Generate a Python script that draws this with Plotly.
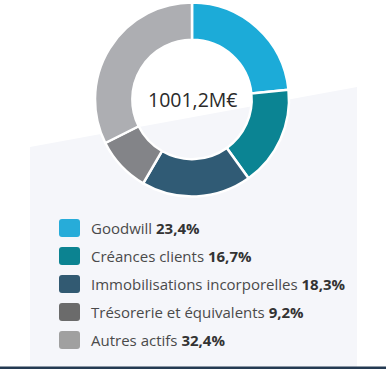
import plotly.graph_objects as go

W, H = 386, 369

labels = ["Goodwill", "Créances clients", "Immobilisations incorporelles",
          "Trésorerie et équivalents", "Autres actifs"]
values = [23.4, 16.7, 18.3, 9.2, 32.4]
value_labels = ["23,4%", "16,7%", "18,3%", "9,2%", "32,4%"]
total_label = "1001,2M€"

slice_colors = ["#1CABD8", "#0B8493", "#305B75", "#838488", "#ADAEB2"]
legend_colors = ["#27ACD9", "#0C8391", "#325A72", "#6B6B6B", "#A0A0A0"]


def px(x):
    return x / W


def py(y):
    return 1 - y / H


fig = go.Figure()
fig.add_trace(go.Pie(
    labels=labels, values=values, sort=False, direction="clockwise",
    rotation=0, hole=0.615,
    marker=dict(colors=slice_colors, line=dict(color="white", width=2.5)),
    textinfo="none", hoverinfo="label+percent", showlegend=False,
    domain=dict(x=[px(95), px(289)], y=[py(197), py(2)]),
))

shapes = []
# light background panel with slanted top
shapes.append(dict(
    type="path", xref="paper", yref="paper", layer="below",
    path=f"M {px(30)},{py(147)} L {px(357)},{py(87)} L {px(357)},{py(367)} L {px(30)},{py(367)} Z",
    fillcolor="#F5F6FA", line=dict(width=0),
))
# bottom navy rule
shapes.append(dict(
    type="rect", xref="paper", yref="paper", layer="above",
    x0=0, x1=1, y0=py(369), y1=py(366.5),
    fillcolor="#243A52", line=dict(width=0),
))

annotations = [dict(
    x=px(192), y=py(100), xref="paper", yref="paper", text=total_label,
    showarrow=False, xanchor="center", yanchor="middle",
    font=dict(family="Open Sans", size=19.5, color="#2A2A2A"),
)]

row_y0, row_dy = 228, 28
for i, (lab, vl, col) in enumerate(zip(labels, value_labels, legend_colors)):
    cy = row_y0 + i * row_dy
    x0, x1, y0, y1, r = 59, 80, cy - 9, cy + 9, 3
    path = (f"M {px(x0 + r)},{py(y0)} L {px(x1 - r)},{py(y0)} "
            f"Q {px(x1)},{py(y0)} {px(x1)},{py(y0 + r)} L {px(x1)},{py(y1 - r)} "
            f"Q {px(x1)},{py(y1)} {px(x1 - r)},{py(y1)} L {px(x0 + r)},{py(y1)} "
            f"Q {px(x0)},{py(y1)} {px(x0)},{py(y1 - r)} L {px(x0)},{py(y0 + r)} "
            f"Q {px(x0)},{py(y0)} {px(x0 + r)},{py(y0)} Z")
    shapes.append(dict(type="path", xref="paper", yref="paper", path=path,
                       fillcolor=col, line=dict(width=0)))
    annotations.append(dict(
        x=px(89), y=py(cy), xref="paper", yref="paper",
        text=f"{lab} <b style='color:#333333'>{vl}</b>",
        showarrow=False, xanchor="left", yanchor="middle",
        font=dict(family="Open Sans", size=15, color="#4A4A4A"),
    ))

fig.update_layout(
    width=W, height=H, margin=dict(l=0, r=0, t=0, b=0),
    paper_bgcolor="white", plot_bgcolor="white",
    shapes=shapes, annotations=annotations, showlegend=False,
)

fig.write_html(
    "out.html",
    config={"displayModeBar": False},
    post_script="document.body.style.margin='0';document.body.style.overflow='hidden';",
)
